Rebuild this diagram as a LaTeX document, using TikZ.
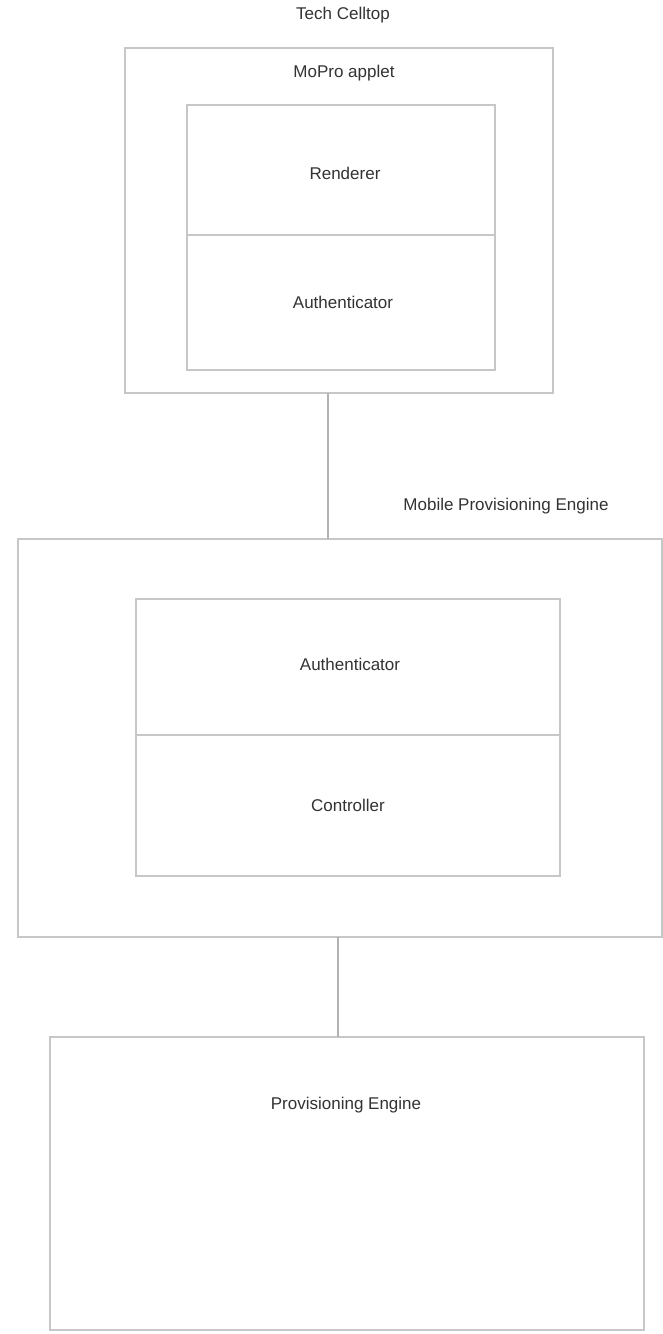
\documentclass[tikz,border=0pt]{standalone}
\usepackage{fontspec}
\setmainfont{Liberation Sans}
\begin{document}
\begin{tikzpicture}[x=1pt,y=-1pt,
  frame/.style={draw=black!22,line width=1.3pt,anchor=north west,inner sep=0pt,outer sep=0pt},
  label/.style={text=black!80,font=\fontsize{17}{20}\selectfont,inner sep=0pt},
  link/.style={draw=black!30,line width=1.3pt}]
\useasboundingbox[fill=white] (0,0) rectangle (663,1334);
% Tech Celltop
\node[frame,minimum width=428pt,minimum height=345pt] (tech) at (125,48) {};
\node[frame,minimum width=308pt,minimum height=130pt] (rend) at (187,105) {};
\node[frame,minimum width=308pt,minimum height=135pt] (auth1) at (187,235) {};
\node[label] (techlbl) at (343,15) {Tech Celltop};
\node[label] (moprolbl) at (344,73) {MoPro applet};
\node[label] at ([xshift=4pt,yshift=-3pt]rend.center) {Renderer};
\node[label] at ([xshift=2pt]auth1.center) {Authenticator};
% Mobile Provisioning Engine
\node[frame,minimum width=644pt,minimum height=398pt] (mpe) at (18,539) {};
\node[frame,minimum width=424pt,minimum height=136pt] (auth2) at (136,599) {};
\node[frame,minimum width=424pt,minimum height=141pt] (ctrl) at (136,735) {};
\node[label] (mpelbl) at (506,506) {Mobile Provisioning Engine};
\node[label] at ([xshift=2pt,yshift=3pt]auth2.center) {Authenticator};
\node[label] at (ctrl.center) {Controller};
% Provisioning Engine
\node[frame,minimum width=594pt,minimum height=293pt] (pe) at (50,1037) {};
\node[label] (pelbl) at (346,1105) {Provisioning Engine};
% links
\coordinate (c1) at (328,0);
\draw[link] (tech.south -| c1) -- (mpe.north -| c1);
\coordinate (c2) at (338,0);
\draw[link] (mpe.south -| c2) -- (pe.north -| c2);
\end{tikzpicture}
\end{document}
